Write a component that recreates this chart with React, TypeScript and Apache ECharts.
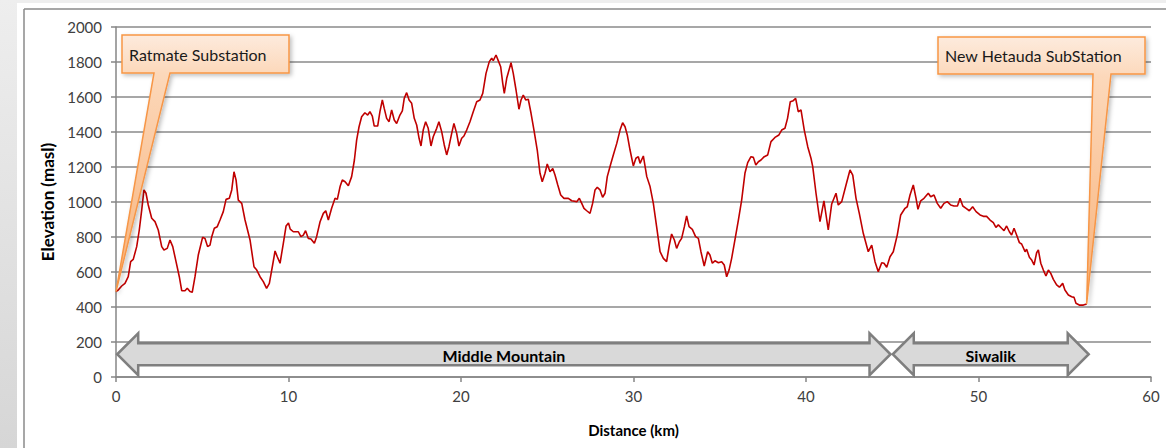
import React, { useEffect, useRef } from "react";
import * as echarts from "echarts";

// ---------- DATA ----------
// Elevation profile: [distance km, elevation masl]
const seg0to10: [number, number][] = [
  [0, 488], [0.13, 497], [0.33, 520], [0.52, 535], [0.71, 573], [0.85, 659], [1.0, 672], [1.2, 745],
  [1.35, 840], [1.49, 954], [1.62, 1069], [1.74, 1050], [1.87, 983], [2.07, 907], [2.26, 888], [2.45, 840],
  [2.65, 745], [2.78, 726], [2.97, 735], [3.13, 783], [3.29, 745], [3.48, 659], [3.67, 573], [3.81, 493],
  [4.0, 493], [4.13, 507], [4.29, 488], [4.42, 484], [4.58, 573], [4.77, 697], [5.02, 798], [5.16, 792],
  [5.31, 745], [5.45, 754], [5.55, 802], [5.7, 850], [5.87, 859], [6.03, 897], [6.22, 945], [6.38, 1015],
  [6.57, 1021], [6.71, 1069], [6.84, 1173], [6.96, 1126], [7.09, 1011], [7.29, 992], [7.48, 897], [7.77, 783],
  [8.0, 630], [8.16, 611], [8.35, 573], [8.54, 545], [8.73, 507], [8.89, 535], [9.08, 640], [9.22, 720],
  [9.35, 687], [9.51, 650], [9.7, 764], [9.86, 863], [10.0, 880],
];
const seg10to20: [number, number][] = [
  [10.1, 845], [10.28, 830], [10.57, 830], [10.72, 802], [10.86, 811], [10.99, 836], [11.15, 792], [11.3, 789],
  [11.5, 764], [11.63, 802], [11.83, 887], [12.02, 935], [12.16, 950], [12.31, 897], [12.5, 964], [12.7, 1021],
  [12.83, 1015], [12.99, 1088], [13.12, 1126], [13.28, 1116], [13.47, 1093], [13.66, 1145], [13.82, 1240], [13.95, 1354],
  [14.09, 1430], [14.24, 1487], [14.43, 1510], [14.59, 1497], [14.72, 1516], [14.86, 1491], [14.97, 1434], [15.17, 1434],
  [15.3, 1516], [15.44, 1583], [15.55, 1535], [15.69, 1478], [15.83, 1459], [15.98, 1526], [16.13, 1469], [16.27, 1449],
  [16.46, 1497], [16.6, 1521], [16.71, 1592], [16.85, 1625], [16.99, 1583], [17.14, 1564], [17.29, 1478], [17.43, 1440],
  [17.57, 1364], [17.68, 1320], [17.81, 1411], [17.95, 1459], [18.1, 1421], [18.26, 1320], [18.39, 1373], [18.59, 1421],
  [18.72, 1459], [18.88, 1402], [19.03, 1326], [19.17, 1269], [19.3, 1316], [19.46, 1392], [19.59, 1449], [19.75, 1392],
  [19.88, 1320], [20.04, 1364],
];
const seg20to30: [number, number][] = [
  [20.17, 1377], [20.33, 1411], [20.52, 1459], [20.71, 1516], [20.91, 1573], [21.1, 1583], [21.26, 1621], [21.45, 1735],
  [21.64, 1802], [21.78, 1821], [21.87, 1808], [22.03, 1840], [22.16, 1808], [22.3, 1773], [22.42, 1678], [22.51, 1621],
  [22.65, 1707], [22.9, 1796], [23.03, 1735], [23.19, 1640], [23.36, 1530], [23.48, 1583], [23.61, 1611], [23.75, 1583],
  [23.9, 1587], [24.06, 1507], [24.23, 1411], [24.42, 1297], [24.58, 1164], [24.71, 1116], [24.87, 1164], [25.0, 1217],
  [25.16, 1173], [25.32, 1192], [25.45, 1154], [25.61, 1097], [25.78, 1040], [25.97, 1021], [26.22, 1021], [26.42, 1007],
  [26.71, 1002], [26.86, 1021], [27.0, 992], [27.13, 964], [27.29, 950], [27.48, 935], [27.63, 992], [27.77, 1069],
  [27.9, 1084], [28.06, 1069], [28.21, 1027], [28.35, 1050], [28.48, 1145], [28.68, 1217], [28.83, 1269], [29.03, 1335],
  [29.22, 1411], [29.37, 1453], [29.51, 1430], [29.64, 1383], [29.8, 1297], [29.99, 1206], [30.14, 1250], [30.28, 1259],
];
const seg30to40: [number, number][] = [
  [30.38, 1221], [30.57, 1263], [30.77, 1145], [30.96, 1088], [31.15, 992], [31.34, 859], [31.54, 716], [31.73, 678],
  [31.92, 659], [32.06, 745], [32.21, 817], [32.37, 783], [32.5, 735], [32.66, 773], [32.79, 792], [32.95, 859],
  [33.08, 920], [33.22, 859], [33.41, 844], [33.6, 802], [33.76, 792], [33.91, 716], [34.1, 634], [34.3, 716],
  [34.43, 697], [34.57, 650], [34.72, 664], [34.92, 653], [35.11, 659], [35.26, 640], [35.4, 573], [35.54, 611],
  [35.69, 678], [35.88, 783], [36.08, 897], [36.27, 1011], [36.46, 1164], [36.62, 1225], [36.81, 1259], [36.95, 1255],
  [37.09, 1211], [37.24, 1230], [37.39, 1240], [37.58, 1259], [37.78, 1269], [37.97, 1345], [38.2, 1369], [38.43, 1383],
  [38.59, 1411], [38.78, 1421], [38.93, 1478], [39.09, 1573], [39.26, 1579], [39.4, 1592], [39.55, 1516], [39.71, 1526],
  [39.9, 1411], [40.1, 1316], [40.29, 1250],
];
const seg40to50: [number, number][] = [
  [40.39, 1202], [40.58, 1050], [40.81, 888], [41.04, 1007], [41.29, 840], [41.49, 989], [41.74, 1050], [41.87, 983],
  [42.07, 1002], [42.32, 1097], [42.55, 1183], [42.71, 1154], [42.9, 1021], [43.09, 935], [43.32, 821], [43.61, 716],
  [43.81, 754], [44.0, 659], [44.19, 602], [44.39, 653], [44.52, 650], [44.68, 627], [44.87, 687], [45.06, 716],
  [45.29, 811], [45.49, 926], [45.74, 964], [45.87, 973], [46.03, 1040], [46.22, 1097], [46.38, 1021], [46.49, 958],
  [46.65, 1007], [46.84, 1021], [47.09, 1050], [47.23, 1030], [47.42, 1040], [47.61, 992], [47.81, 964], [48.0, 992],
  [48.19, 1002], [48.39, 983], [48.58, 977], [48.78, 977], [48.93, 1021], [49.09, 977], [49.28, 964], [49.47, 950],
  [49.66, 973], [49.86, 945],
];
const seg50to57: [number, number][] = [
  [50.09, 926], [50.28, 918], [50.47, 918], [50.67, 897], [50.86, 882], [51.01, 855], [51.15, 869], [51.34, 850],
  [51.48, 836], [51.63, 863], [51.79, 830], [51.92, 811], [52.06, 850], [52.21, 811], [52.37, 768], [52.5, 760],
  [52.7, 716], [52.79, 730], [52.95, 684], [53.08, 669], [53.22, 640], [53.37, 710], [53.47, 726], [53.61, 650],
  [53.76, 611], [53.91, 577], [54.05, 611], [54.19, 592], [54.34, 558], [54.53, 526], [54.69, 513], [54.88, 535],
  [55.01, 497], [55.21, 469], [55.4, 459], [55.54, 455], [55.65, 421], [55.84, 411], [56.08, 411], [56.27, 417],
];

const xAxisMin = 0;
const xAxisMax = 60;
const xAxisStep = 10;
const yAxisMin = 0;
const yAxisMax = 2000;
const yAxisStep = 200;

const xAxisTitle = "Distance (km)";
const yAxisTitle = "Elevation (masl)";

// Zone arrows (km ranges) and the elevation level they sit at
const zoneNames = ["Middle Mountain", "Siwalik"];
const zoneStartKm = [0.07, 45.03];
const zoneEndKm = [44.9, 56.39];
const zoneLevel = 130;

// Callouts
const calloutLabels = ["Ratmate Substation", "New Hetauda SubStation"];

const FONT = "Lato, 'Open Sans', 'Liberation Sans', sans-serif";

export default function App() {
  const ref = useRef<HTMLDivElement>(null);

  useEffect(() => {
    if (!ref.current) return;
    const chart = echarts.init(ref.current, null, { renderer: "svg" });

    const profile = [...seg0to10, ...seg10to20, ...seg20to30, ...seg30to40, ...seg40to50, ...seg50to57];
    const zones = zoneStartKm.map((s, i) => [s, zoneEndKm[i], zoneLevel]);

    const axisGray = "#868686";

    const option: any = {
      animation: false,
      backgroundColor: "#ffffff",
      grid: { left: 116, right: 15, top: 27, bottom: 71, containLabel: false },
      xAxis: {
        type: "value",
        min: xAxisMin,
        max: xAxisMax,
        interval: xAxisStep,
        name: xAxisTitle,
        nameLocation: "middle",
        nameGap: 45,
        nameTextStyle: { fontFamily: FONT, fontSize: 15, fontWeight: "bold", color: "#000" },
        axisLine: { show: true, onZero: false, lineStyle: { color: axisGray, width: 1.5 } },
        axisTick: { show: true, length: 5, lineStyle: { color: axisGray, width: 1.5 } },
        axisLabel: {
          margin: 11,
          fontFamily: FONT,
          fontSize: 15,
          color: "#404040",
          formatter: (v: number) => String(v),
        },
        splitLine: { show: false },
      },
      yAxis: {
        type: "value",
        min: yAxisMin,
        max: yAxisMax,
        interval: yAxisStep,
        name: yAxisTitle,
        nameLocation: "middle",
        nameGap: 58,
        nameRotate: 90,
        nameTextStyle: { fontFamily: FONT, fontSize: 17, fontWeight: "bold", color: "#000" },
        axisLine: { show: true, lineStyle: { color: axisGray, width: 1.5 } },
        axisTick: { show: true, length: 5, lineStyle: { color: axisGray, width: 1.5 } },
        axisLabel: {
          margin: 14,
          fontFamily: FONT,
          fontSize: 15,
          color: "#404040",
          formatter: (v: number) => String(v),
        },
        splitLine: { show: true, lineStyle: { color: "#8a8a8a", width: 1.5 } },
      },
      series: [
        {
          type: "line",
          data: profile,
          showSymbol: false,
          symbol: "none",
          lineStyle: { color: "#C00000", width: 1.6 },
          z: 3,
        },
        {
          type: "custom",
          data: zones,
          encode: { x: [0, 1], y: 2 },
          clip: false,
          z: 4,
          renderItem: (params: any, api: any) => {
            const a = api.coord([api.value(0), api.value(2)]);
            const b = api.coord([api.value(1), api.value(2)]);
            const xl = a[0];
            const xr = b[0];
            const yc = a[1];
            const H = 21;
            const h = 11;
            const L = 21;
            const pts = [
              [xl, yc],
              [xl + L, yc - H],
              [xl + L, yc - h],
              [xr - L, yc - h],
              [xr - L, yc - H],
              [xr, yc],
              [xr - L, yc + H],
              [xr - L, yc + h],
              [xl + L, yc + h],
              [xl + L, yc + H],
            ];
            return {
              type: "group",
              children: [
                {
                  type: "polygon",
                  shape: { points: pts },
                  style: { fill: "#D9D9D9", stroke: "#7F7F7F", lineWidth: 2.5, lineJoin: "miter" },
                },
                {
                  type: "text",
                  style: {
                    text: zoneNames[params.dataIndex],
                    x: (xl + xr) / 2,
                    y: yc + 1,
                    align: "center",
                    verticalAlign: "middle",
                    font: `bold 16px ${FONT}`,
                    fill: "#000",
                  },
                },
              ],
            };
          },
        },
      ],
    };

    chart.setOption(option);

    // callouts point at the first and last profile samples
    const startPt = chart.convertToPixel({ gridIndex: 0 }, profile[0]) as number[];
    const endPt = chart.convertToPixel({ gridIndex: 0 }, profile[profile.length - 1]) as number[];

    const calloutFill = () =>
      new echarts.graphic.LinearGradient(0, 0, 0, 1, [
        { offset: 0, color: "#FDEBDD" },
        { offset: 0.15, color: "#FCD8BA" },
        { offset: 1, color: "#F8B27A" },
      ]);

    const makeCallout = (
      label: string,
      box: [number, number, number, number],
      wedge: [number, number],
      tip: number[]
    ) => {
      const [x0, y0, x1, y1] = box;
      const pts = [
        [x0, y0],
        [x1, y0],
        [x1, y1],
        [wedge[1], y1],
        [tip[0], tip[1]],
        [wedge[0], y1],
        [x0, y1],
      ];
      return [
        {
          type: "polygon",
          z: 20,
          shape: { points: pts },
          style: {
            fill: calloutFill(),
            stroke: "#F79646",
            lineWidth: 1.5,
            lineJoin: "miter",
            shadowBlur: 4,
            shadowOffsetX: 2,
            shadowOffsetY: 2,
            shadowColor: "rgba(0,0,0,0.25)",
          },
        },
        {
          type: "text",
          z: 21,
          style: {
            text: label,
            x: x0 + 7,
            y: (y0 + y1) / 2,
            verticalAlign: "middle",
            font: `16px ${FONT}`,
            fill: "#1a1a1a",
          },
        },
      ];
    };

    chart.setOption({
      graphic: [
        { type: "rect", z: 0, shape: { x: 0, y: 0, width: 1166, height: 3 }, style: { fill: "#eeeeee" } },
        {
          type: "rect",
          z: 0,
          shape: { x: 0, y: 0, width: 17, height: 448 },
          style: {
            fill: new echarts.graphic.LinearGradient(0, 0, 0, 1, [
              { offset: 0, color: "#eeeeee" },
              { offset: 1, color: "#d6d6d6" },
            ]),
          },
        },
        { type: "line", z: 1, shape: { x1: 24, y1: 9, x2: 1166, y2: 9 }, style: { stroke: "#8a8a8a", lineWidth: 1.5 } },
        { type: "line", z: 1, shape: { x1: 24, y1: 9, x2: 24, y2: 448 }, style: { stroke: "#8a8a8a", lineWidth: 1.5 } },
        ...makeCallout(calloutLabels[0], [122, 35, 289, 73], [154, 170], startPt),
        ...makeCallout(calloutLabels[1], [938, 37, 1145, 74], [1093, 1111], endPt),
      ],
    });

    return () => chart.dispose();
  }, []);

  return (
    <div
      ref={ref}
      style={{ position: "fixed", left: 0, top: 0, width: 1166, height: 448 }}
    />
  );
}
